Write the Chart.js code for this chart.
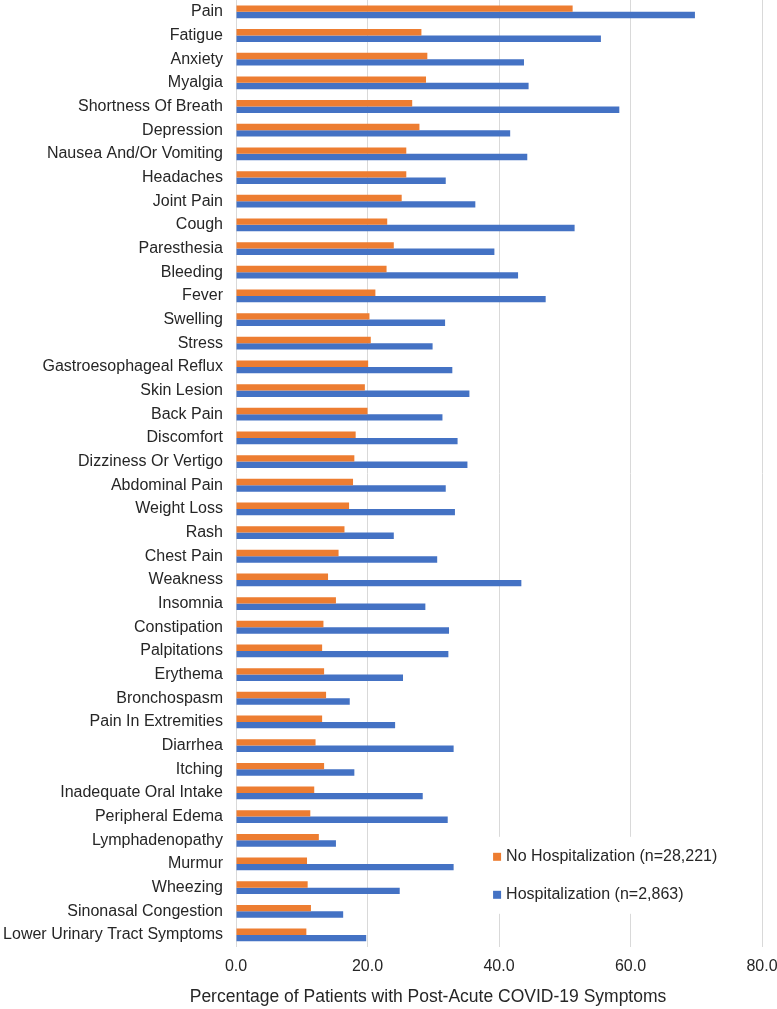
<!DOCTYPE html>
<html>
<head>
<meta charset="utf-8">
<script src="https://cdn.jsdelivr.net/npm/chart.js@4/dist/chart.umd.min.js"></script>
<style>
  html, body { margin: 0; padding: 0; background: #fff; }
  #wrap { width: 777px; height: 1009px; position: relative; }
</style>
</head>
<body>
<div id="wrap"><canvas id="symptomChart"></canvas></div>
<script>
// Symptom categories, top to bottom
const symptoms = [
    'Pain', 'Fatigue', 'Anxiety', 'Myalgia', 'Shortness Of Breath', 'Depression',
    'Nausea And/Or Vomiting', 'Headaches', 'Joint Pain', 'Cough', 'Paresthesia',
    'Bleeding', 'Fever', 'Swelling', 'Stress', 'Gastroesophageal Reflux', 'Skin Lesion',
    'Back Pain', 'Discomfort', 'Dizziness Or Vertigo', 'Abdominal Pain', 'Weight Loss',
    'Rash', 'Chest Pain', 'Weakness', 'Insomnia', 'Constipation', 'Palpitations',
    'Erythema', 'Bronchospasm', 'Pain In Extremities', 'Diarrhea', 'Itching',
    'Inadequate Oral Intake', 'Peripheral Edema', 'Lymphadenopathy', 'Murmur',
    'Wheezing', 'Sinonasal Congestion', 'Lower Urinary Tract Symptoms'
];

// No hospitalization (orange)
const noHospValues = [
    51.2, 28.2, 29.1, 28.9, 26.8, 27.9, 25.9, 25.9, 25.2, 23.0, 24.0,
    22.9, 21.2, 20.3, 20.5, 20.1, 19.6, 20.0, 18.2, 18.0, 17.8, 17.2,
    16.5, 15.6, 14.0, 15.2, 13.3, 13.1, 13.4, 13.7, 13.1, 12.1, 13.4,
    11.9, 11.3, 12.6, 10.8, 10.9, 11.4, 10.7
];

// Hospitalization (blue)
const hospValues = [
    69.8, 55.5, 43.8, 44.5, 58.3, 41.7, 44.3, 31.9, 36.4, 51.5, 39.3,
    42.9, 47.1, 31.8, 29.9, 32.9, 35.5, 31.4, 33.7, 35.2, 31.9, 33.3,
    24.0, 30.6, 43.4, 28.8, 32.4, 32.3, 25.4, 17.3, 24.2, 33.1, 18.0,
    28.4, 32.2, 15.2, 33.1, 24.9, 16.3, 19.8
];

const seriesLabels = ['No Hospitalization (n=28,221)', 'Hospitalization (n=2,863)'];
const xTicks = [0, 20, 40, 60, 80];
const xTitle = 'Percentage of Patients with Post-Acute COVID-19 Symptoms';

const FONT = '"Liberation Sans", Arial, sans-serif';
const FONT_SIZE = 16;
const TEXT = '#262626';

// Legend drawn inside the plot area, on a white patch over the gridlines,
// plus the x axis title which sits left of the plot centre in the original
const extras = {
    id: 'extras',
    afterDatasetsDraw(chart) {
        const ctx = chart.ctx;
        const x = chart.scales.x;
        const left = x.getPixelForValue(39.1);
        const top = chart.chartArea.bottom - 110;
        ctx.save();
        ctx.fillStyle = '#fff';
        ctx.fillRect(left - 4, top, 245, 77);
        ctx.font = FONT_SIZE + 'px ' + FONT;
        ctx.textBaseline = 'middle';
        chart.data.datasets.forEach((ds, i) => {
            const cy = top + 20 + i * 38;
            ctx.fillStyle = ds.backgroundColor;
            ctx.fillRect(left, cy - 4, 8, 8);
            ctx.fillStyle = TEXT;
            ctx.fillText(ds.label, left + 13, cy);
        });
        ctx.restore();
    },
    afterDraw(chart) {
        const ctx = chart.ctx;
        ctx.save();
        ctx.font = '17.5px ' + FONT;
        ctx.fillStyle = TEXT;
        ctx.textAlign = 'center';
        ctx.textBaseline = 'middle';
        ctx.fillText(xTitle, 428, chart.height - 11.5);
        ctx.restore();
    }
};

document.addEventListener('DOMContentLoaded', function() {
    const ctx = document.getElementById('symptomChart').getContext('2d');
    new Chart(ctx, {
        type: 'bar',
        data: {
            labels: symptoms,
            datasets: [{
                label: seriesLabels[0],
                data: noHospValues,
                backgroundColor: '#ED7D31'
            }, {
                label: seriesLabels[1],
                data: hospValues,
                backgroundColor: '#4472C4'
            }]
        },
        options: {
            indexAxis: 'y',
            responsive: true,
            maintainAspectRatio: false,
            animation: false,
            categoryPercentage: 0.54,
            barPercentage: 1.0,
            layout: { padding: { top: 0, right: 0, bottom: 23, left: 0 } },
            plugins: {
                legend: { display: false },
                tooltip: { enabled: false }
            },
            scales: {
                x: {
                    min: 0,
                    max: 80,
                    afterBuildTicks(scale) {
                        scale.ticks = xTicks.map(v => ({ value: v }));
                    },
                    afterFit(scale) {
                        scale.paddingLeft = 0;
                        scale.paddingRight = 15;
                    },
                    ticks: {
                        callback: v => v.toFixed(1),
                        color: TEXT,
                        font: { family: FONT, size: FONT_SIZE },
                        padding: 10,
                        maxRotation: 0
                    },
                    grid: { color: '#D9D9D9', lineWidth: 1, drawTicks: false },
                    border: { display: false }
                },
                y: {
                    afterFit(scale) {
                        scale.width = 236;
                        scale.paddingTop = 0;
                        scale.paddingBottom = 0;
                    },
                    ticks: {
                        color: TEXT,
                        font: { family: FONT, size: FONT_SIZE },
                        padding: 13,
                        autoSkip: false
                    },
                    grid: { display: false, drawTicks: false },
                    border: { display: false }
                }
            }
        },
        plugins: [extras]
    });
});
</script>
</body>
</html>
